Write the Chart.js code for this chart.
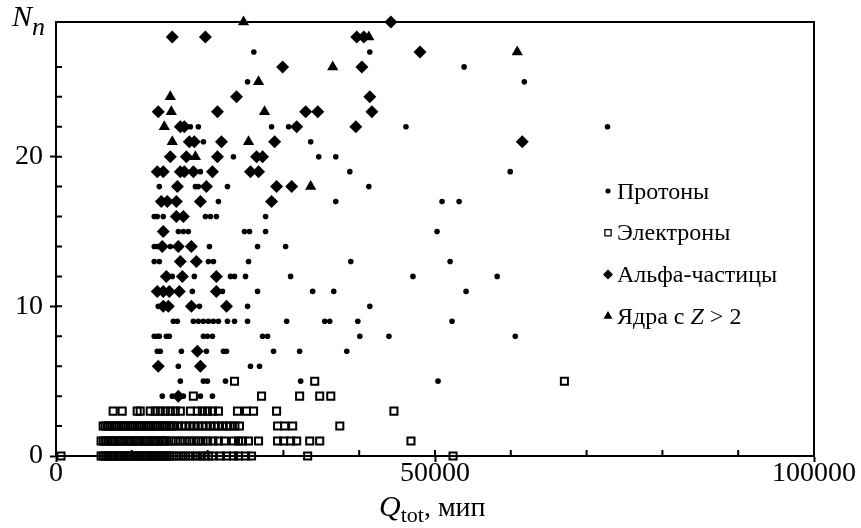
<!DOCTYPE html>
<html>
<head>
<meta charset="utf-8">
<script src="https://cdn.jsdelivr.net/npm/chart.js@4.4.1/dist/chart.umd.min.js"></script>
<style>
  html, body { margin: 0; padding: 0; background: #fff; }
  canvas { display: block; }
</style>
</head>
<body>
<canvas id="chart" width="861" height="528"></canvas>
<script>
/* ===== Data ===== */
const SERIES_LABELS = ['Протоны', 'Электроны', 'Альфа-частицы', 'Ядра с Z > 2'];
const X_LABELED = [0, 50000, 100000];
const Y_LABELED = [0, 10, 20];

// [Q_tot, N_n]
const protons = [
  [26100,27],[41400,27],
  [53840,26],
  [25270,25],[61780,25],
  [17730,22],[18780,22],[28440,22],[30690,22],[46170,22],[72760,22],
  [19450,21],[33600,21],
  [23410,20],[34660,20],[36910,20],
  [19050,19],[38760,19],[59920,19],
  [13630,18],[18390,18],[18780,18],[22620,18],[41270,18],
  [21430,17],[36910,17],[50930,17],[53180,17],
  [12960,16],[13360,16],[14150,16],[19710,16],[20370,16],[21160,16],[27650,16],
  [16140,15],[16800,15],[17460,15],[24870,15],[25530,15],[27650,15],[50270,15],
  [12960,14],[13360,14],[15080,14],[20240,14],[26590,14],[30290,14],
  [12960,13],[13630,13],[20110,13],[20770,13],[25400,13],[38890,13],[51990,13],
  [15340,12],[18250,12],[23020,12],[23550,12],[25000,12],[30950,12],[47090,12],[58200,12],
  [17990,11],[21960,11],[26590,11],[33860,11],[36640,11],[54100,11],
  [13490,10],[18920,10],[25270,10],[41400,10],
  [15480,9],[16010,9],[18120,9],[18780,9],[19450,9],[20110,9],[20770,9],[21430,9],
  [22620,9],[23550,9],[25270,9],[30430,9],[35450,9],[36110,9],[39820,9],[52250,9],
  [12960,8],[13360,8],[13630,8],[14550,8],[14950,8],[19450,8],[19970,8],[20640,8],
  [27250,8],[27910,8],[40080,8],[43920,8],[60590,8],
  [13360,7],[13760,7],[16540,7],[19840,7],[22090,7],[22490,7],[28700,7],[32140,7],[38360,7],
  [16140,6],[25660,6],[26850,6],
  [16400,5],[19450,5],[19970,5],[22360,5],[32280,5],[50400,5],
  [14020,4],[15340,4],[16800,4],[19050,4],[20640,4],
];

// electrons: Q_tot values per row, index = N_n
const electronRows = [
  [660, 5950,6250,6550,6850,7150,7450,7750,8050,8350,8650,8950,9250,9550,9850,10150,10450,
   10750,11050,11350,11650,11950,12250,12550,12850,13150,13450,13750,14050,14350,14650,14950,
   15300,15900,16500,17100,17700,18400,19000,19600,20100,20640,
   21690,22490,23410,24080,25000,25800,33200,52380],
  [5950,6250,6550,6850,7150,7450,7750,8050,8350,8650,8950,9250,9550,9850,10150,10450,10750,
   11050,11350,11650,11950,12250,12550,12850,13150,13450,13750,14050,14350,14600,
   15200,15800,16400,17000,17600,18200,18800,19400,20000,20700,
   21430,22220,23410,24080,24600,25400,26720,29230,30030,30950,31750,33470,34790,46830],
  [6220,6500,6800,7100,7400,7700,8000,8300,8600,8900,9200,9500,9800,10100,10400,10700,11000,
   11300,11600,11900,12200,12500,12800,13100,13400,13700,14000,14300,14600,14900,15200,15500,
   16050,16600,17100,17650,18200,18750,19300,19800,20350,20900,21400,21950,22500,23000,23600,24200,
   29230,30160,31220,37440],
  [7540,8730,10710,11110,12430,13100,13760,14420,15080,15740,16400,17730,18650,19310,19970,
   20640,21430,23940,25130,26060,29100,44580],
  [18120,27120,32140,34790,36250],
  [23550,34130,67070],
];

const alphas = [
  [44180,29],
  [15340,28],[19710,28],[39680,28],[40610,28],
  [48020,27],
  [29900,26],[40350,26],
  [23810,24],[41400,24],
  [13490,23],[21300,23],[32940,23],[34530,23],[41670,23],
  [16400,22],[16930,22],[31750,22],[39550,22],
  [17590,21],[18250,21],[21830,21],[28840,21],[61510,21],
  [15080,20],[17200,20],[21300,20],[26460,20],[27250,20],
  [13360,19],[14150,19],[16400,19],[16930,19],[18120,19],[20640,19],[25660,19],[26720,19],
  [16010,18],[19840,18],[29100,18],[31090,18],
  [13890,17],[14680,17],[15870,17],[19050,17],[28440,17],
  [15870,16],[16800,16],
  [14150,15],
  [14020,14],[16140,14],[17860,14],
  [16400,13],[18520,13],
  [14550,12],[16670,12],[21160,12],
  [13360,11],[14150,11],[14950,11],[16270,11],[21160,11],
  [14150,10],[14820,10],[17860,10],[22490,10],
  [18650,7],
  [13490,6],[19050,6],
  [16140,4],
];

const nuclei = [
  [24740,29],[41270,28],[60850,27],[36510,26],[26720,25],[15080,24],
  [15210,23],[27510,23],[14290,22],[15340,21],[25400,21],[18390,20],[33600,18],
];

/* ===== Helpers ===== */
const FONT = 'Liberation Serif, Times New Roman, serif';
const toPts = arr => arr.map(([x, y]) => ({x, y}));
const electrons = electronRows.flatMap((xs, n) => xs.map(x => ({x, y: n})));

function drawRuns(ctx, parts, x, y){
  parts.forEach(([text, font, dy]) => {
    ctx.font = font;
    ctx.fillText(text, x, y + dy);
    x += ctx.measureText(text).width;
  });
}

/* ===== Plugins ===== */
const frame = {
  id: 'frame',
  beforeDatasetsDraw(chart){
    const {ctx, chartArea: a, scales: {x, y}} = chart;
    ctx.save();
    ctx.strokeStyle = '#000';
    ctx.lineWidth = 2;
    ctx.strokeRect(a.left, a.top, a.right - a.left, a.bottom - a.top);
    // inward ticks
    ctx.beginPath();
    x.ticks.forEach(t => { const p = x.getPixelForValue(t.value); ctx.moveTo(p, a.bottom); ctx.lineTo(p, a.bottom - 6); });
    y.ticks.forEach(t => { const p = y.getPixelForValue(t.value); ctx.moveTo(a.left, p); ctx.lineTo(a.left + 6, p); });
    ctx.stroke();
    ctx.restore();
  }
};

// legend glyph sizes / border widths (smaller than the plotted marks)
const LEGEND_RADIUS = [2.6, 4.4, 5, 5.2];
const LEGEND_BORDER = [0, 1.3, 0, 0];

const legendBox = {
  id: 'legendBox',
  afterDatasetsDraw(chart){
    const ctx = chart.ctx;
    ctx.save();
    chart.data.datasets.forEach((ds, i) => {
      const cy = 191 + i * 41.7;
      ctx.fillStyle = ds.pointBackgroundColor;
      ctx.strokeStyle = '#000';
      ctx.lineWidth = LEGEND_BORDER[i];
      Chart.helpers.drawPoint(ctx, {pointStyle: ds.pointStyle, radius: LEGEND_RADIUS[i], rotation: 0, borderWidth: LEGEND_BORDER[i]}, 608, cy);
      ctx.fillStyle = '#000';
      ctx.textBaseline = 'alphabetic';
      const parts = ds.label.split(/(\b[A-Z]\b)/).filter(Boolean)
        .map(s => [s, (/^[A-Z]$/.test(s) ? 'italic ' : '') + '24px ' + FONT, 0]);
      drawRuns(ctx, parts, 617, cy + 7.5);
    });
    ctx.restore();
  }
};

const axisTitles = {
  id: 'axisTitles',
  afterDraw(chart){
    const ctx = chart.ctx;
    ctx.save();
    ctx.fillStyle = '#000';
    ctx.textBaseline = 'alphabetic';
    drawRuns(ctx, [['N', 'italic 30px ' + FONT, 0], ['n', 'italic 26px ' + FONT, 9]], 12, 26);
    drawRuns(ctx, [['Q', 'italic 30px ' + FONT, 0], ['tot', '22px ' + FONT, 6], [', мип', '28px ' + FONT, 0]], 379, 516);
    ctx.restore();
  }
};

/* ===== Chart ===== */
const tickFont = {family: FONT, size: 28, lineHeight: 1};
const majorColor = list => c => (c.tick && list.includes(c.tick.value)) ? '#000' : 'rgba(0,0,0,0)';

new Chart(document.getElementById('chart'), {
  type: 'scatter',
  plugins: [frame, legendBox, axisTitles],
  data: {
    datasets: [
      {label: SERIES_LABELS[0], data: toPts(protons), pointStyle: 'circle', pointRadius: 2.8,
       pointBackgroundColor: '#000', pointBorderColor: '#000', pointBorderWidth: 0, clip: false},
      {label: SERIES_LABELS[1], data: electrons, pointStyle: 'rect', pointRadius: 5,
       pointBackgroundColor: 'rgba(0,0,0,0)', pointBorderColor: '#000', pointBorderWidth: 2, clip: false},
      {label: SERIES_LABELS[2], data: toPts(alphas), pointStyle: 'rectRot', pointRadius: 6.5,
       pointBackgroundColor: '#000', pointBorderColor: '#000', pointBorderWidth: 0, clip: false},
      {label: SERIES_LABELS[3], data: toPts(nuclei), pointStyle: 'triangle', pointRadius: 6.5,
       pointBackgroundColor: '#000', pointBorderColor: '#000', pointBorderWidth: 0, clip: false},
    ]
  },
  options: {
    responsive: false, animation: false, devicePixelRatio: 1, events: [],
    layout: {padding: {left: 0, top: 22, right: 47, bottom: 0}},
    plugins: {legend: {display: false}, tooltip: {enabled: false}},
    scales: {
      x: {
        type: 'linear', min: 0, max: 100000,
        border: {display: true, color: '#000', width: 2},
        grid: {drawOnChartArea: false, tickLength: 6, tickWidth: 2, tickColor: majorColor(X_LABELED)},
        ticks: {stepSize: 10000, autoSkip: false, maxRotation: 0, minRotation: 0, padding: -2, color: '#000',
                font: tickFont, callback: v => X_LABELED.includes(v) ? String(v) : ''},
        afterFit: s => { s.height = 72; }
      },
      y: {
        type: 'linear', min: 0, max: 29,
        border: {display: true, color: '#000', width: 2},
        grid: {drawOnChartArea: false, tickLength: 6, tickWidth: 2, tickColor: majorColor(Y_LABELED)},
        ticks: {stepSize: 2, autoSkip: false, padding: 7, color: '#000',
                font: tickFont, callback: v => Y_LABELED.includes(v) ? String(v) : ''},
        afterFit: s => { s.width = 56; }
      }
    }
  }
});
</script>
</body>
</html>
